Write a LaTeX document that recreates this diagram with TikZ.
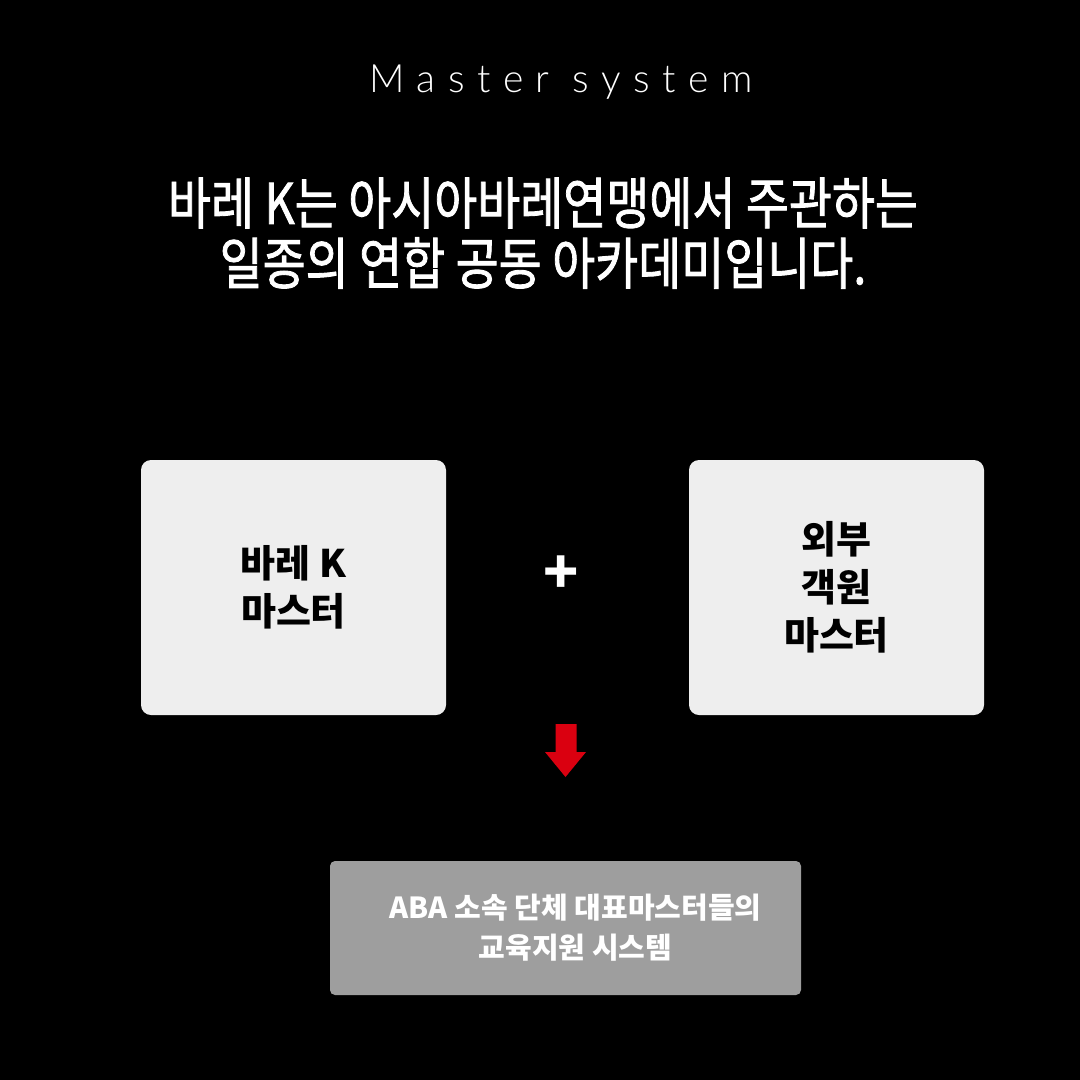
\documentclass[tikz,border=0pt]{standalone}
\usepackage{fontspec}
\usetikzlibrary{positioning}
\setmainfont{Noto Sans CJK KR}
\newfontfamily\headfont[FakeBold=1.6]{Noto Sans CJK KR}
\newfontfamily\titlefont[LetterSpace=32]{Lato Light}
\definecolor{BoxLight}{HTML}{EEEEEE}
\definecolor{BoxGray}{HTML}{9E9E9E}
\definecolor{ArrowRed}{HTML}{DA0010}
\tikzset{
  master/.style={rectangle,rounded corners=10pt,fill=BoxLight,minimum width=305pt,minimum height=255pt,align=center,text=black,font=\fontsize{38}{48}\selectfont\bfseries},
  summary/.style={rectangle,rounded corners=5pt,fill=BoxGray,minimum width=471pt,minimum height=134pt,align=center,text=white,font=\fontsize{29}{40}\selectfont\bfseries},
  headline/.style={text=white,inner sep=0pt,font=\fontsize{56}{60}\selectfont\headfont},
}
\begin{document}
\begin{tikzpicture}[x=1pt,y=-1pt]
  \fill[black] (0,0) rectangle (1080,1080);
  \useasboundingbox (0,0) rectangle (1080,1080);

  % Title
  \node[text=white,font=\fontsize{39}{44}\selectfont\titlefont] (title) at (561,82) {Master system};

  % Headline
  \node[headline] (lineA) at (543,203) {\scalebox{0.835}[1]{바레 K는 아시아바레연맹에서 주관하는}};
  \node[headline] (lineB) at (543,263) {\scalebox{0.835}[1]{일종의 연합 공동 아카데미입니다.}};

  % Masters
  \node[master] (barek) at (293.5,587.5) {바레 K\\마스터};
  \node[master,minimum width=295pt] (outer) at (836.5,587.5) {외부\\객원\\마스터};
  \node[text=white,font=\fontsize{58}{58}\selectfont\bfseries] (plus) at (561,575) {+};

  % Result
  \coordinate (down) at (566,724);
  \fill[ArrowRed] (down) ++(-10.5,0) -- ++(21,0) -- ++(0,28) -- ++(9.5,0) -- ++(-20.5,25) -- ++(-20.5,-25) -- ++(10.5,0) -- cycle;
  \node[summary] (aba) at (565.5,928) {\hspace*{20pt}ABA 소속 단체 대표마스터들의\\\hspace*{20pt}교육지원 시스템};
\end{tikzpicture}
\end{document}
